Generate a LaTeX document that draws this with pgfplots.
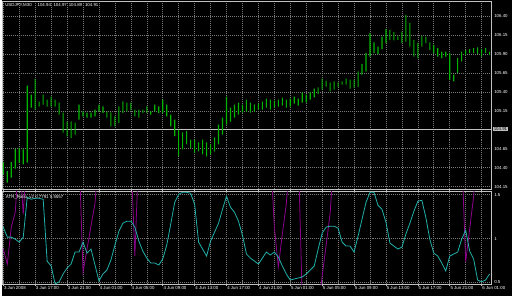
\documentclass[border=0pt]{standalone}
\usepackage{pgfplots}
\pgfplotsset{compat=1.18}
\usepackage{pgfplotstable}
\usepackage{fontspec}
\setmainfont{Liberation Sans}
\definecolor{barg}{RGB}{0,180,0}
\definecolor{gridc}{RGB}{120,120,120}
\definecolor{bord}{RGB}{192,192,192}
\definecolor{cyanl}{RGB}{32,178,170}
\definecolor{magl}{RGB}{140,0,140}
\newcommand{\mt}{\fontsize{4.4}{5}\selectfont}

\pgfplotstableread{
i h l
0 104.474 104.312
1 104.355 104.203
2 104.474 104.268
3 104.650 104.387
4 104.663 104.466
5 104.641 104.443
6 105.483 104.466
7 105.364 105.193
8 105.571 105.167
9 105.272 105.207
10 105.364 105.233
11 105.299 105.207
12 105.338 105.207
13 105.299 105.207
14 105.259 105.101
15 105.128 104.864
16 105.009 104.812
17 105.013 104.795
18 104.996 104.838
19 105.233 105.036
20 105.145 105.079
21 105.128 105.062
22 105.128 105.062
23 105.167 105.079
24 105.233 105.145
25 105.211 105.124
26 105.145 105.062
27 105.132 104.947
28 105.079 104.947
29 105.211 104.992
30 105.276 105.124
31 105.259 105.145
32 105.259 105.160
33 105.167 105.079
34 105.167 105.062
35 105.167 105.124
36 105.211 105.124
37 105.145 105.101
38 105.233 105.145
39 105.211 105.124
40 105.299 105.124
41 105.233 105.079
42 105.101 104.947
43 105.036 104.816
44 104.904 104.553
45 104.865 104.641
46 104.882 104.707
47 104.772 104.663
48 104.772 104.597
49 104.733 104.618
50 104.772 104.575
51 104.733 104.549
52 104.707 104.575
53 104.799 104.615
54 104.970 104.707
55 105.062 104.838
56 105.338 104.970
57 105.193 105.009
58 105.233 105.062
59 105.259 105.101
60 105.233 105.128
61 105.299 105.141
62 105.259 105.128
63 105.233 105.141
64 105.246 105.167
65 105.272 105.167
66 105.312 105.193
67 105.299 105.167
68 105.286 105.193
69 105.299 105.207
70 105.325 105.220
71 105.299 105.193
72 105.312 105.207
73 105.338 105.246
74 105.312 105.220
75 105.391 105.259
76 105.364 105.259
77 105.395 105.299
78 105.443 105.329
79 105.461 105.374
80 105.575 105.430
81 105.549 105.470
82 105.522 105.408
83 105.540 105.430
84 105.526 105.466
85 105.540 105.496
86 105.575 105.496
87 105.562 105.443
88 105.562 105.457
89 105.671 105.466
90 105.772 105.628
91 105.913 105.671
92 106.176 105.868
93 106.053 105.913
94 106.000 105.904
95 106.132 105.966
96 106.229 106.045
97 106.220 106.088
98 106.193 106.082
99 106.134 106.088
100 106.197 106.045
101 106.417 106.066
102 106.312 106.000
103 106.088 105.868
104 106.049 105.847
105 106.141 106.000
106 106.132 106.045
107 106.053 105.957
108 106.022 105.913
109 105.979 105.868
110 105.934 105.847
111 105.934 105.868
112 105.913 105.562
113 105.628 105.540
114 105.847 105.650
115 105.934 105.803
116 105.957 105.891
117 105.966 105.913
118 105.979 105.913
119 105.987 105.904
120 105.966 105.868
121 105.979 105.913
122 105.934 105.891
}\bars

\pgfplotstableread{
i v
0 1.131
1 1.017
2 1.017
3 0.994
4 0.960
5 1.017
6 1.472
7 1.449
8 1.460
9 1.460
10 1.449
11 0.744
12 0.688
13 0.483
14 0.506
15 0.597
16 0.665
17 0.710
18 0.847
19 0.847
20 0.960
21 0.835
22 0.881
23 0.699
24 0.517
25 0.597
26 0.642
27 0.756
28 0.926
29 1.085
30 1.176
31 1.199
32 1.199
33 1.131
34 0.972
35 0.858
36 0.778
37 0.722
38 0.722
39 0.699
40 0.767
41 0.926
42 1.165
43 1.415
44 1.506
45 1.528
46 1.528
47 1.517
48 1.392
49 0.960
50 0.881
51 0.801
52 0.972
53 1.074
54 1.176
55 1.335
56 1.483
57 1.358
58 1.301
59 1.199
60 1.040
61 0.824
62 0.778
63 0.744
64 0.710
65 0.778
66 0.847
67 0.813
68 0.847
69 0.790
70 0.688
71 0.597
72 0.528
73 0.540
74 0.551
75 0.563
76 0.597
77 0.642
78 0.688
79 0.881
80 1.063
81 1.131
82 1.142
83 1.142
84 1.119
85 0.960
86 0.915
87 0.915
88 0.847
89 1.028
90 1.222
91 1.415
92 1.528
93 1.528
94 1.381
95 1.335
96 1.188
97 0.949
98 0.915
99 0.881
100 0.903
101 1.051
102 1.176
103 1.313
104 1.426
105 1.438
106 1.244
107 0.994
108 0.835
109 0.801
110 0.722
111 0.631
112 0.801
113 0.824
114 0.847
115 0.994
116 1.097
117 0.858
118 0.767
119 0.528
120 0.506
121 0.528
122 0.597
}\cyanline

\pgfplotstableread{
i v
0 0.881
1 0.710
2 1.131
3 1.301
4 2.0
5 1.278
6 2.0
19 2.0
20 0.619
21 0.881
22 1.142
23 1.403
24 2.0
32 2.0
33 0.801
34 2.0
67 2.0
68 1.142
69 0.676
70 1.051
71 1.392
72 2.0
74 2.0
75 0.3
76 0.2
79 0.2
80 0.574
81 0.926
82 1.290
83 2.0
115 2.0
116 0.733
117 1.108
118 1.483
119 2.0
122 2.0
}\magline

\begin{document}
\begin{tikzpicture}
\fill[black] (0,0) rectangle (512bp,297bp);
\pgfplotsset{mtaxis/.style={
  scale only axis, width=490.5bp, xmin=-0.125, xmax=122.5,
  axis line style={bord, line width=0.8bp},
  major tick length=0pt,
  grid=major,
  major grid style={gridc, line width=0.6bp, dash pattern=on 1bp off 1bp},
  yticklabel pos=right,
  yticklabel style={font=\mt, text=white, anchor=west, inner sep=0pt, xshift=2.5bp},
  clip mode=individual,
}}
\begin{axis}[mtaxis, at={(1bp,107bp)}, anchor=south west, height=189bp,
  ymin=104.1145, ymax=106.601,
  xtick={0,4,...,120}, xticklabels={},
  ytick={104.15,104.40,104.65,105.15,105.40,105.65,105.90,106.15,106.40},
  yticklabels={104.15,104.40,104.65,105.15,105.40,105.65,105.90,106.15,106.40}]
\addplot[bord, line width=0.6bp] coordinates {(-1,104.91) (124,104.91)};
\end{axis}
\begin{axis}[at={(1bp,107bp)}, anchor=south west, scale only axis, width=490.5bp, height=189bp,
  xmin=-0.125, xmax=122.5, ymin=104.1145, ymax=106.601, hide axis,
  ybar stacked, bar width=1.1bp]
\addplot[draw=none, fill=none] table[x=i, y=l] {\bars};
\addplot[draw=none, fill=barg] table[x=i, y expr={\thisrow{h}-\thisrow{l}}] {\bars};
\end{axis}
\begin{axis}[mtaxis, at={(1bp,11.5bp)}, anchor=south west, height=93bp,
  ymin=0.477, ymax=1.534,
  ytick={0.5,1,1.5}, yticklabels={0.5,1,1.5},
  xtick={4,12,...,116}, xticklabels={},
  extra x ticks={0,8,...,120},
  extra x tick labels={3 Jun 2008,3 Jun 17:00,3 Jun 21:00,4 Jun 01:00,4 Jun 05:00,4 Jun 09:00,4 Jun 13:00,4 Jun 17:00,4 Jun 21:00,5 Jun 01:00,5 Jun 05:00,5 Jun 09:00,5 Jun 13:00,5 Jun 17:00,5 Jun 21:00,6 Jun 01:00},
  extra x tick style={grid=major, major tick length=2bp, tick align=outside, tick style={bord, line width=0.6bp},
    xticklabel style={font=\mt, text=white, anchor=base west, inner sep=0pt, xshift=0.6bp, yshift=-3.5bp}}]
\addplot[magl, line width=0.8bp] table[x=i, y=v] {\magline};
\addplot[cyanl, line width=0.8bp] table[x=i, y=v] {\cyanline};
\end{axis}
\node[anchor=west, fill=bord, text=black, inner sep=0.5bp, font=\mt] at (493bp,167.7bp) {104.91};
\node[anchor=west, text=white, inner sep=0pt, font=\mt] at (3.3bp,292bp) {USDJPY,M30};
\node[anchor=west, text=white, inner sep=0pt, font=\mt] at (35.7bp,292bp) {104.94};
\node[anchor=west, text=white, inner sep=0pt, font=\mt] at (51.7bp,292bp) {104.97};
\node[anchor=west, text=white, inner sep=0pt, font=\mt] at (67bp,292bp) {104.89};
\node[anchor=west, text=white, inner sep=0pt, font=\mt] at (83.3bp,292bp) {104.91};
\node[anchor=west, text=white, inner sep=0pt, font=\mt] at (4bp,98.7bp) {ATR\_Ratio\_v2 0.7791 0.5557};
\end{tikzpicture}
\end{document}
